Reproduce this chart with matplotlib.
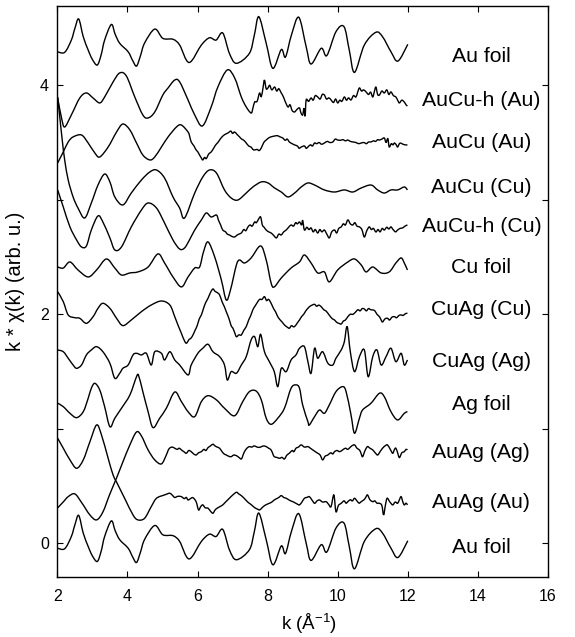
import matplotlib
matplotlib.use('Agg')
import matplotlib.pyplot as plt
from matplotlib.path import Path
from matplotlib.patches import PathPatch
from matplotlib.ticker import FuncFormatter

plt.rcParams['font.family'] = ['Liberation Sans', 'DejaVu Sans']
plt.rcParams['mathtext.default'] = 'regular'

# Au foil (drawn twice: bottom and top of the stack)
AU_FOIL_K = [2.00, 2.21, 2.40, 2.50, 2.61, 2.74, 2.88, 3.00, 3.14, 3.25,
             3.35, 3.54, 3.65, 3.78, 4.02, 4.15, 4.26, 4.37, 4.49, 4.78,
             5.01, 5.30, 5.49, 5.76, 6.11, 6.34, 6.53, 6.72, 6.91, 7.11,
             7.48, 7.62, 7.75, 7.96, 8.15, 8.39, 8.51, 8.68, 8.89, 9.10,
             9.24, 9.53, 9.69, 9.95, 10.18, 10.33, 10.48, 10.76, 11.09, 11.28,
             11.52, 11.72, 12.00]
AU_FOIL_Y = [-0.043, -0.048, 0.059, 0.16, 0.243, 0.088, -0.028, -0.11, -0.159, -0.07,
             0.059, 0.195, 0.11, 0.031, -0.043, -0.12, -0.168, -0.08, 0.033, 0.155,
             0.074, 0.066, 0.016, -0.137, 0.016, 0.079, 0.059, 0.121, -0.057, -0.144,
             -0.057, 0.10, 0.263, 0.031, -0.188, -0.024, -0.089, 0.103, 0.258, 0.001,
             -0.150, -0.013, -0.076, 0.132, 0.176, -0.028, -0.223, 0.016, 0.127, 0.088,
             -0.043, -0.124, 0.022]
AU_FOIL_TOP_SHIFT = 4.336

AUCUH_AU_K = [2.01, 2.12, 2.21, 2.40, 2.64, 2.83, 3.02, 3.21, 3.35, 3.59,
              3.78, 3.97, 4.21, 4.44, 4.59, 4.78, 5.01, 5.16, 5.35, 5.49,
              5.73, 5.92, 6.14, 6.39, 6.58, 6.85, 7.06, 7.25, 7.39,
              7.53, 7.58, 7.63, 7.70, 7.77, 7.82, 7.87, 7.91, 7.96, 8.01,
              8.06, 8.12, 8.20, 8.26, 8.32, 8.39, 8.45, 8.50, 8.58, 8.64,
              8.70, 8.77, 8.84, 8.91, 8.95, 9.00, 9.04, 9.07, 9.10, 9.17,
              9.24, 9.30, 9.36, 9.43, 9.50, 9.56, 9.62, 9.68, 9.75, 9.81,
              9.88, 9.94, 10.00, 10.06, 10.12, 10.19, 10.25, 10.31, 10.38, 10.45,
              10.52, 10.57, 10.62, 10.68, 10.74, 10.81, 10.88, 10.94, 11.00, 11.05,
              11.09, 11.14, 11.19, 11.26, 11.33, 11.40, 11.46, 11.52, 11.59, 11.66,
              11.71, 11.76, 11.83, 11.90, 11.95, 11.99]
AUCUH_AU_Y = [3.889, 3.715, 3.636, 3.741, 3.889, 3.933, 3.889, 3.846, 3.898, 4.029,
              4.108, 4.081, 3.898, 3.741, 3.715, 3.767, 3.915, 3.977, 4.046, 4.03,
              3.872, 3.741, 3.645, 3.811, 3.985, 4.134, 4.064, 3.898, 3.811,
              3.758, 3.80, 3.854, 3.86, 3.933, 3.90, 3.98, 4.046, 3.97, 3.977,
              4.00, 3.96, 3.985, 3.95, 3.97, 3.933, 3.90, 3.86, 3.811, 3.83,
              3.78, 3.767, 3.79, 3.802, 3.76, 3.741, 3.80, 3.73, 3.872, 3.86,
              3.889, 3.87, 3.91, 3.898, 3.88, 3.92, 3.915, 3.88, 3.89, 3.872,
              3.85, 3.88, 3.846, 3.87, 3.86, 3.898, 3.87, 3.89, 3.872, 3.91,
              3.898, 3.94, 3.977, 3.95, 3.96, 3.942, 3.92, 3.94, 3.898, 3.95,
              3.985, 3.92, 3.915, 3.95, 3.933, 3.96, 3.92, 3.942, 3.91, 3.898,
              3.87, 3.846, 3.87, 3.854, 3.83, 3.819]

AUCU_AU_K = [2.01, 2.17, 2.31, 2.45, 2.69, 2.88, 3.07, 3.21, 3.45, 3.69,
             3.87, 4.07, 4.26, 4.44, 4.64, 4.78, 4.97, 5.16, 5.40, 5.54,
             5.73, 5.78, 5.82, 5.90, 5.95, 6.01, 6.06, 6.10, 6.15, 6.20,
             6.25, 6.32, 6.39, 6.46, 6.52, 6.58, 6.63, 6.70, 6.78, 6.87,
             6.95, 7.00, 7.06, 7.13, 7.20, 7.26, 7.32, 7.39, 7.46, 7.53,
             7.58, 7.63, 7.70, 7.76, 7.82, 7.89, 7.96, 8.03, 8.10, 8.20,
             8.28, 8.35, 8.43, 8.50, 8.56, 8.62, 8.70, 8.77, 8.85, 8.90,
             8.96, 9.05, 9.10, 9.15, 9.22, 9.28, 9.34, 9.40, 9.47, 9.54,
             9.62, 9.70, 9.78, 9.86, 9.93, 10.00, 10.08, 10.15, 10.22, 10.29,
             10.36, 10.44, 10.52, 10.60, 10.67, 10.75, 10.82, 10.88, 10.95, 11.02,
             11.08, 11.14, 11.19, 11.26, 11.33, 11.38, 11.43, 11.47, 11.53, 11.58,
             11.62, 11.67, 11.71, 11.76, 11.80, 11.85, 11.92, 11.99]
AUCU_AU_Y = [3.322, 3.418, 3.505, 3.549, 3.566, 3.496, 3.409, 3.374, 3.461, 3.592,
             3.662, 3.610, 3.496, 3.391, 3.348, 3.374, 3.461, 3.549, 3.636, 3.653,
             3.592, 3.55, 3.505, 3.47, 3.44, 3.418, 3.39, 3.37, 3.348, 3.37,
             3.36, 3.40, 3.418, 3.45, 3.48, 3.50, 3.522, 3.55, 3.57, 3.584,
             3.60, 3.58, 3.592, 3.57, 3.549, 3.53, 3.52, 3.496, 3.47, 3.46,
             3.44, 3.435, 3.44, 3.43, 3.453, 3.50, 3.522, 3.54, 3.55, 3.557,
             3.56, 3.55, 3.540, 3.52, 3.53, 3.505, 3.49, 3.479, 3.47, 3.45,
             3.461, 3.47, 3.45, 3.461, 3.48, 3.47, 3.496, 3.49, 3.50, 3.485,
             3.496, 3.51, 3.50, 3.505, 3.53, 3.522, 3.52, 3.525, 3.515, 3.522,
             3.51, 3.505, 3.50, 3.49, 3.496, 3.50, 3.49, 3.505, 3.505, 3.515,
             3.51, 3.525, 3.522, 3.53, 3.540, 3.50, 3.535, 3.461, 3.49, 3.48,
             3.496, 3.48, 3.461, 3.49, 3.495, 3.487, 3.48, 3.479]

AUCU_CU_K = [2.01, 2.07, 2.14, 2.21, 2.31, 2.45, 2.59, 2.78, 2.97, 3.16,
             3.35, 3.50, 3.64, 3.87, 4.11, 4.40, 4.64, 4.83, 5.06, 5.30,
             5.49, 5.63, 5.92, 6.15, 6.34, 6.54, 6.77, 6.96, 7.15, 7.39,
             7.58, 7.82, 8.01, 8.20, 8.39, 8.58, 8.77, 8.96, 9.15, 9.34,
             9.62, 9.91, 10.19, 10.43, 10.67, 10.95, 11.14, 11.33, 11.52, 11.71,
             11.90, 11.99]
AUCU_CU_Y = [3.898, 3.723, 3.522, 3.348, 3.173, 3.025, 2.928, 2.841, 2.972, 3.129,
             3.225, 3.156, 3.025, 2.955, 3.059, 3.173, 3.243, 3.260, 3.190, 3.025,
             2.928, 2.841, 3.059, 3.199, 3.260, 3.234, 3.086, 3.016, 2.998, 3.059,
             3.112, 3.156, 3.147, 3.103, 3.068, 3.025, 3.059, 3.112, 3.147, 3.129,
             3.086, 3.068, 3.086, 3.068, 3.103, 3.129, 3.086, 3.059, 3.086, 3.086,
             3.112, 3.086]

AUCUH_CU_K = [2.01, 2.17, 2.36, 2.55, 2.69, 2.83, 2.97, 3.16, 3.30, 3.50,
              3.64, 3.83, 4.11, 4.40, 4.59, 4.83, 5.06, 5.30, 5.49, 5.63,
              5.77, 5.92, 6.11, 6.25, 6.39,
              6.54, 6.60, 6.66, 6.72, 6.80, 6.85, 6.91, 6.98, 7.06, 7.12,
              7.18, 7.25, 7.32, 7.38, 7.44, 7.50, 7.56, 7.63, 7.68, 7.74,
              7.80, 7.85, 7.90, 7.96, 8.03, 8.10, 8.17, 8.25, 8.32, 8.39,
              8.46, 8.53, 8.60, 8.67, 8.74, 8.80, 8.85, 8.91, 8.97, 9.00,
              9.05, 9.12, 9.18, 9.24, 9.30, 9.36, 9.43, 9.49, 9.55, 9.62,
              9.69, 9.76, 9.83, 9.91, 9.97, 10.03, 10.10, 10.16, 10.22, 10.29,
              10.36, 10.43, 10.49, 10.55, 10.62, 10.69, 10.76, 10.83, 10.90, 10.96,
              11.02, 11.09, 11.15, 11.21, 11.27, 11.33, 11.40, 11.46, 11.52, 11.58,
              11.65, 11.71, 11.78, 11.85, 11.92, 11.99]
AUCUH_CU_Y = [3.086, 2.937, 2.763, 2.649, 2.588, 2.597, 2.736, 2.859, 2.806, 2.667,
              2.562, 2.588, 2.763, 2.911, 2.972, 2.928, 2.797, 2.649, 2.570, 2.579,
              2.649, 2.736, 2.824, 2.885, 2.850,
              2.867, 2.82, 2.78, 2.736, 2.72, 2.70, 2.693, 2.68, 2.675, 2.69,
              2.70, 2.710, 2.74, 2.73, 2.763, 2.78, 2.77, 2.806, 2.80, 2.83,
              2.850, 2.78, 2.76, 2.736, 2.72, 2.710, 2.69, 2.667, 2.70, 2.693,
              2.72, 2.736, 2.76, 2.780, 2.77, 2.80, 2.79, 2.806, 2.78, 2.82,
              2.736, 2.76, 2.74, 2.754, 2.72, 2.74, 2.710, 2.74, 2.72, 2.736,
              2.70, 2.667, 2.72, 2.736, 2.71, 2.75, 2.763, 2.79, 2.78, 2.824,
              2.79, 2.780, 2.80, 2.77, 2.763, 2.74, 2.675, 2.73, 2.763, 2.74,
              2.75, 2.719, 2.74, 2.72, 2.75, 2.736, 2.76, 2.745, 2.763, 2.74,
              2.72, 2.736, 2.75, 2.754, 2.77, 2.780]

CU_FOIL_K = [2.01, 2.17, 2.36, 2.59, 2.88, 3.12, 3.40, 3.64, 3.83, 4.07,
             4.30, 4.59, 4.87, 5.06, 5.30, 5.54, 5.73, 5.92, 6.06, 6.17,
             6.30, 6.49, 6.68, 6.82, 6.94, 7.11, 7.20, 7.34, 7.53, 7.80,
             7.96, 8.10, 8.19, 8.39, 8.67, 8.91, 9.05, 9.24, 9.43, 9.62,
             9.76, 10.00, 10.29, 10.48, 10.67, 10.81, 11.00, 11.24, 11.47, 11.66,
             11.81, 11.90, 11.99]
CU_FOIL_Y = [2.413, 2.404, 2.457, 2.387, 2.326, 2.387, 2.483, 2.404, 2.343, 2.361,
             2.370, 2.413, 2.527, 2.448, 2.326, 2.239, 2.326, 2.404, 2.413, 2.544,
             2.632, 2.501, 2.300, 2.125, 2.212, 2.431, 2.474, 2.448, 2.492, 2.597,
             2.474, 2.273, 2.239, 2.317, 2.404, 2.457, 2.518, 2.448, 2.361, 2.370,
             2.283, 2.387, 2.457, 2.483, 2.431, 2.370, 2.413, 2.361, 2.370, 2.448,
             2.492, 2.448, 2.387]

CUAG_CU_K = [2.01, 2.17, 2.31, 2.50, 2.64, 2.83, 3.02, 3.16, 3.30, 3.50,
             3.69, 3.87, 4.11, 4.40, 4.68, 4.97, 5.21,
             5.35, 5.45, 5.54, 5.61, 5.68, 5.76, 5.81, 5.87, 5.93, 5.99,
             6.05, 6.11, 6.17, 6.23, 6.30, 6.37, 6.44, 6.50, 6.56, 6.63,
             6.70, 6.76, 6.82, 6.90, 6.96, 7.01, 7.06, 7.11, 7.18, 7.25,
             7.32, 7.39, 7.46, 7.52, 7.58, 7.63, 7.70, 7.77, 7.84, 7.91,
             7.97, 8.03, 8.10, 8.17, 8.23, 8.29, 8.36, 8.42, 8.48, 8.55,
             8.62, 8.68, 8.75, 8.81, 8.86, 8.91, 8.97, 9.03, 9.09, 9.15,
             9.21, 9.27, 9.34, 9.40, 9.46, 9.53, 9.60, 9.66, 9.72, 9.79,
             9.85, 9.91, 9.97, 10.04, 10.10, 10.16, 10.22, 10.29, 10.36, 10.44,
             10.52, 10.58, 10.64, 10.70, 10.76, 10.82, 10.88, 10.94, 11.00, 11.06,
             11.12, 11.19, 11.24, 11.28, 11.35, 11.42, 11.48, 11.55, 11.62, 11.68,
             11.75, 11.81, 11.87, 11.93, 11.99]
CUAG_CU_Y = [2.197, 2.110, 1.994, 1.970, 1.965, 1.921, 1.979, 2.052, 2.096, 2.052,
             1.965, 1.901, 1.950, 2.023, 2.081, 2.116, 2.081,
             1.979, 1.90, 1.834, 1.78, 1.747, 1.78, 1.79, 1.819, 1.86, 1.90,
             1.96, 1.994, 2.05, 2.10, 2.140, 2.19, 2.221, 2.20, 2.19, 2.169,
             2.11, 2.07, 2.023, 1.96, 1.90, 1.878, 1.84, 1.804, 1.82, 1.819,
             1.86, 1.892, 1.95, 1.99, 2.04, 2.066, 2.10, 2.13, 2.13, 2.154,
             2.12, 2.13, 2.096, 2.05, 2.02, 1.979, 1.95, 1.93, 1.907, 1.89,
             1.878, 1.90, 1.89, 1.907, 1.93, 1.950, 1.98, 2.00, 2.03, 2.052,
             2.07, 2.08, 2.087, 2.07, 2.08, 2.066, 2.04, 2.03, 2.009, 1.98,
             1.96, 1.950, 1.93, 1.92, 1.915, 1.94, 1.95, 1.979, 2.00, 2.00,
             2.023, 2.04, 2.03, 2.05, 2.046, 2.03, 2.05, 2.04, 2.038, 2.03,
             2.00, 1.979, 1.95, 1.933, 1.96, 1.965, 1.95, 1.975, 1.979, 1.97,
             1.99, 1.994, 1.99, 2.005, 2.009]

CUAG_AG_K = [2.01, 2.17, 2.31, 2.45, 2.55, 2.69, 2.83, 2.97, 3.12, 3.30,
             3.50, 3.64, 3.78, 3.87, 4.02, 4.16, 4.26, 4.40, 4.54, 4.68,
             4.78, 4.97, 5.06, 5.21, 5.35, 5.49, 5.73, 5.82, 6.01, 6.15,
             6.30, 6.44, 6.63, 6.77, 6.85, 6.96, 7.11, 7.25, 7.39, 7.53,
             7.63, 7.72, 7.80, 7.91, 8.05, 8.19, 8.29, 8.39, 8.53, 8.67,
             8.81, 8.91, 9.05, 9.15, 9.24, 9.34, 9.43, 9.57, 9.72, 9.86,
             9.95, 10.10, 10.19, 10.27, 10.36, 10.48, 10.62, 10.76, 10.87, 11.00,
             11.12, 11.24, 11.38, 11.52, 11.66, 11.81, 11.90, 11.99]
CUAG_AG_Y = [1.688, 1.673, 1.616, 1.557, 1.528, 1.557, 1.645, 1.688, 1.717, 1.673,
             1.572, 1.441, 1.485, 1.528, 1.557, 1.645, 1.659, 1.645, 1.659, 1.557,
             1.673, 1.659, 1.601, 1.673, 1.601, 1.557, 1.470, 1.557, 1.659, 1.703,
             1.738, 1.673, 1.630, 1.557, 1.426, 1.499, 1.485, 1.557, 1.630, 1.776,
             1.804, 1.717, 1.825, 1.673, 1.586, 1.499, 1.368, 1.528, 1.499, 1.601,
             1.645, 1.703, 1.717, 1.586, 1.485, 1.703, 1.616, 1.673, 1.572, 1.557,
             1.616, 1.688, 1.761, 1.892, 1.673, 1.499, 1.630, 1.688, 1.455, 1.630,
             1.688, 1.557, 1.630, 1.703, 1.586, 1.659, 1.557, 1.601]

AG_FOIL_K = [2.01, 2.17, 2.36, 2.55, 2.74, 2.88, 2.97, 3.07, 3.21, 3.35,
             3.50, 3.64, 3.83, 4.07, 4.26, 4.32, 4.44, 4.59, 4.73, 4.92,
             5.11, 5.35, 5.54, 5.73, 5.92, 6.11, 6.30, 6.54, 6.77, 7.06,
             7.29, 7.48, 7.67, 7.82, 7.96, 8.10, 8.29, 8.48, 8.67, 8.81,
             8.91, 9.00, 9.15, 9.19, 9.34, 9.48, 9.62, 9.76, 9.95, 10.14,
             10.24, 10.38, 10.48, 10.62, 10.71, 10.95, 11.19, 11.33, 11.52, 11.71,
             11.90, 11.99]
AG_FOIL_Y = [1.223, 1.193, 1.135, 1.097, 1.149, 1.266, 1.354, 1.397, 1.339, 1.193,
             1.018, 1.092, 1.179, 1.295, 1.455, 1.464, 1.324, 1.149, 1.010, 1.092,
             1.179, 1.321, 1.237, 1.149, 1.106, 1.237, 1.289, 1.252, 1.179, 1.114,
             1.237, 1.324, 1.330, 1.252, 1.092, 1.039, 1.092, 1.179, 1.354, 1.383,
             1.354, 1.208, 1.062, 1.033, 1.106, 1.164, 1.135, 1.208, 1.324, 1.368,
             1.324, 1.121, 0.961, 1.092, 1.164, 1.223, 1.310, 1.280, 1.149, 1.077,
             1.135, 1.149]

AUAG_AG_K = [2.00, 2.17, 2.31, 2.50, 2.70, 2.93, 3.12, 3.30, 3.50, 3.69,
             3.87, 4.07, 4.26, 4.40, 4.59, 4.78, 4.97,
             5.11, 5.16, 5.21, 5.28, 5.35, 5.42, 5.48, 5.54, 5.61, 5.68,
             5.75, 5.82, 5.89, 5.96, 6.03, 6.11, 6.18, 6.24, 6.30, 6.37,
             6.44, 6.50, 6.56, 6.63, 6.70, 6.76, 6.82, 6.89, 6.96, 7.03,
             7.11, 7.18, 7.25, 7.30, 7.34, 7.41, 7.48, 7.55, 7.62, 7.72,
             7.80, 7.88, 7.96, 8.03, 8.10, 8.15, 8.19, 8.26, 8.34, 8.41,
             8.48, 8.55, 8.62, 8.70, 8.75, 8.81, 8.88, 8.96, 9.05, 9.15,
             9.22, 9.29, 9.36, 9.43, 9.50, 9.57, 9.64, 9.72, 9.80, 9.86,
             9.91, 9.98, 10.06, 10.14, 10.22, 10.28, 10.33, 10.40, 10.48, 10.55,
             10.62, 10.66, 10.71, 10.78, 10.85, 10.92, 11.00, 11.07, 11.14, 11.21,
             11.28, 11.35, 11.42, 11.50, 11.57, 11.62, 11.66, 11.71, 11.76, 11.83,
             11.90, 11.95, 11.99]
AUAG_AG_Y = [0.306, 0.361, 0.407, 0.431, 0.352, 0.247, 0.204, 0.273, 0.431, 0.570,
             0.710, 0.859, 0.972, 0.937, 0.815, 0.728, 0.693,
             0.771, 0.81, 0.832, 0.84, 0.830, 0.82, 0.83, 0.815, 0.80, 0.786,
             0.81, 0.800, 0.78, 0.771, 0.79, 0.800, 0.82, 0.81, 0.835, 0.85,
             0.865, 0.85, 0.84, 0.830, 0.80, 0.78, 0.771, 0.76, 0.756, 0.77,
             0.765, 0.75, 0.736, 0.77, 0.800, 0.83, 0.844, 0.84, 0.85, 0.838,
             0.84, 0.85, 0.844, 0.83, 0.815, 0.78, 0.756, 0.75, 0.742, 0.75,
             0.736, 0.77, 0.786, 0.81, 0.80, 0.830, 0.84, 0.859, 0.84, 0.844,
             0.83, 0.815, 0.80, 0.786, 0.77, 0.728, 0.76, 0.771, 0.79, 0.78,
             0.800, 0.81, 0.80, 0.815, 0.83, 0.82, 0.830, 0.85, 0.859, 0.83,
             0.815, 0.79, 0.756, 0.81, 0.844, 0.83, 0.815, 0.79, 0.771, 0.80,
             0.830, 0.85, 0.859, 0.82, 0.786, 0.82, 0.830, 0.79, 0.748, 0.79,
             0.800, 0.82, 0.815]

AUAG_AU_K = [2.01, 2.17, 2.36, 2.55, 2.74, 2.93, 3.12, 3.26, 3.45, 3.59,
             3.69, 3.92, 4.16, 4.30, 4.49, 4.68, 4.83,
             5.06, 5.13, 5.21, 5.28, 5.35, 5.44, 5.54, 5.62, 5.68, 5.73,
             5.80, 5.87, 5.96, 6.03, 6.09, 6.15, 6.22, 6.30, 6.37, 6.44,
             6.50, 6.56, 6.64, 6.72, 6.80, 6.91, 7.00, 7.11, 7.18, 7.25,
             7.34, 7.44, 7.52, 7.63, 7.70, 7.77, 7.84, 7.91, 7.98, 8.05,
             8.12, 8.19, 8.26, 8.32, 8.39, 8.46, 8.53, 8.60, 8.66, 8.72,
             8.80, 8.86, 8.91, 8.98, 9.05, 9.12, 9.19, 9.26, 9.34, 9.41,
             9.48, 9.57, 9.67, 9.74, 9.81, 9.89, 9.95, 10.02, 10.10, 10.18,
             10.24, 10.29, 10.36, 10.42, 10.48, 10.55, 10.61, 10.67, 10.75, 10.80,
             10.85, 10.92, 11.00, 11.06, 11.12, 11.19, 11.26, 11.31, 11.36, 11.41,
             11.49, 11.57, 11.64, 11.71, 11.76, 11.81, 11.86, 11.90, 11.95, 11.99]
AUAG_AU_Y = [0.917, 0.830, 0.728, 0.655, 0.728, 0.887, 1.033, 0.946, 0.742, 0.597,
             0.535, 0.393, 0.247, 0.204, 0.218, 0.320, 0.393,
             0.422, 0.43, 0.437, 0.42, 0.400, 0.41, 0.407, 0.39, 0.40, 0.378,
             0.39, 0.398, 0.363, 0.291, 0.32, 0.335, 0.31, 0.306, 0.28, 0.262,
             0.29, 0.306, 0.32, 0.335, 0.36, 0.393, 0.42, 0.445, 0.43, 0.416,
             0.39, 0.358, 0.34, 0.311, 0.30, 0.291, 0.31, 0.328, 0.34, 0.349,
             0.36, 0.378, 0.39, 0.40, 0.416, 0.40, 0.393, 0.38, 0.37, 0.363,
             0.35, 0.34, 0.335, 0.36, 0.393, 0.40, 0.407, 0.38, 0.349, 0.37,
             0.378, 0.36, 0.363, 0.34, 0.320, 0.422, 0.276, 0.33, 0.349, 0.37,
             0.35, 0.363, 0.38, 0.37, 0.393, 0.37, 0.35, 0.363, 0.38, 0.40,
             0.422, 0.38, 0.363, 0.37, 0.35, 0.349, 0.33, 0.247, 0.33, 0.393,
             0.36, 0.335, 0.36, 0.349, 0.38, 0.407, 0.36, 0.335, 0.35, 0.335]

# Curve labels, top to bottom, with their baseline heights
LABELS = ['Au foil', 'AuCu-h (Au)', 'AuCu (Au)', 'AuCu (Cu)', 'AuCu-h (Cu)',
          'Cu foil', 'CuAg (Cu)', 'CuAg (Ag)', 'Ag foil', 'AuAg (Ag)',
          'AuAg (Au)', 'Au foil']
LABEL_Y = [4.203, 3.819, 3.450, 3.057, 2.721, 2.363, 1.994, 1.542, 1.164,
           0.742, 0.306, -0.087]
LABEL_K = 14.1


def smooth_path(xs, ys):
    """Cubic Bezier path through every point (Catmull-Rom tangents)."""
    pts = list(zip(xs, ys))
    verts = [pts[0]]
    codes = [Path.MOVETO]
    n = len(pts)
    for i in range(n - 1):
        p0 = pts[max(i - 1, 0)]
        p1 = pts[i]
        p2 = pts[i + 1]
        p3 = pts[min(i + 2, n - 1)]
        c1 = (p1[0] + (p2[0] - p0[0]) / 6.0, p1[1] + (p2[1] - p0[1]) / 6.0)
        c2 = (p2[0] - (p3[0] - p1[0]) / 6.0, p2[1] - (p3[1] - p1[1]) / 6.0)
        verts += [c1, c2, p2]
        codes += [Path.CURVE4] * 3
    return Path(verts, codes)


def main():
    fig = plt.figure(figsize=(5.75, 6.37), dpi=100)
    ax = fig.add_axes([0.0997, 0.0947, 0.8533, 0.8963])

    curves = [
        (AU_FOIL_K, [y + AU_FOIL_TOP_SHIFT for y in AU_FOIL_Y]),
        (AUCUH_AU_K, AUCUH_AU_Y),
        (AUCU_AU_K, AUCU_AU_Y),
        (AUCU_CU_K, AUCU_CU_Y),
        (AUCUH_CU_K, AUCUH_CU_Y),
        (CU_FOIL_K, CU_FOIL_Y),
        (CUAG_CU_K, CUAG_CU_Y),
        (CUAG_AG_K, CUAG_AG_Y),
        (AG_FOIL_K, AG_FOIL_Y),
        (AUAG_AG_K, AUAG_AG_Y),
        (AUAG_AU_K, AUAG_AU_Y),
        (AU_FOIL_K, AU_FOIL_Y),
    ]
    for k, y in curves:
        n = min(len(k), len(y))
        ax.add_patch(PathPatch(smooth_path(k[:n], y[:n]), facecolor='none',
                               edgecolor='black', lw=1.0))

    for label, y in zip(LABELS, LABEL_Y):
        ax.text(LABEL_K, y, label, ha='center', va='baseline', fontsize=15.3)

    ax.set_xlim(2, 16)
    ax.set_ylim(-0.292, 4.695)
    ax.set_xticks(range(2, 17, 2))
    ax.set_yticks(range(0, 5))
    ax.yaxis.set_major_formatter(
        FuncFormatter(lambda v, pos: '%d' % v if int(v) % 2 == 0 else ''))

    ax.tick_params(direction='in', length=4, width=0.8, top=True, right=True,
                   labelsize=11.5)
    ax.tick_params(axis='x', pad=9)
    ax.tick_params(axis='y', pad=6)
    for spine in ax.spines.values():
        spine.set_linewidth(1.0)

    ax.set_xlabel('k (Å$^{-1}$)', fontsize=13.5)
    ax.xaxis.set_label_coords(0.513, -0.062)
    ax.set_ylabel('k * χ(k) (arb. u.)', fontsize=14.5)
    ax.yaxis.set_label_coords(-0.066, 0.518)

    fig.savefig('out.png', dpi=100)
    plt.close('all')


if __name__ == '__main__':
    main()
